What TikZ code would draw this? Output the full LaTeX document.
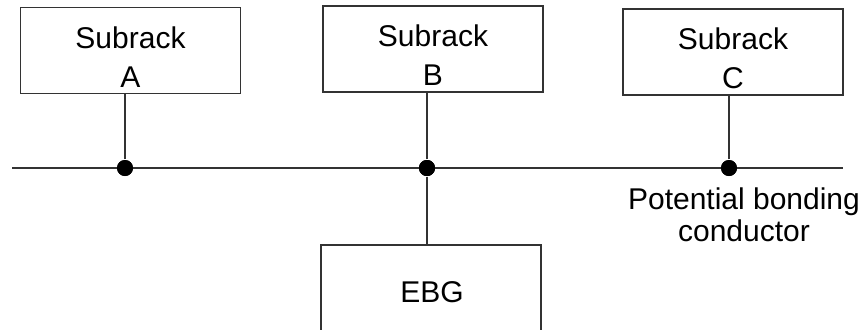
\documentclass[tikz,border=0pt]{standalone}
\usepackage{fontspec}
\setmainfont{Liberation Sans}
\begin{document}
\begin{tikzpicture}[x=0.5pt,y=-0.5pt,line width=0.6pt,draw=black!80]

\def \busy {168}
\def \boxw {220}
\def \boxh {86}
\def \dotsize {8pt}

\tikzset{
  rack/.style={draw=black!80, rectangle, minimum width=\boxw*0.5pt, minimum height=\boxh*0.5pt, inner sep=0pt},
  rackname/.style={align=center, font=\fontsize{15}{19.5}\selectfont},
  joint/.style={draw=none, fill=black, circle, inner sep=0pt, minimum size=\dotsize}
}

\useasboundingbox (0,0) rectangle (864,329);
\clip (0,0) rectangle (864,329);

% subracks and their joints on the bus
\foreach \r/\cx/\cy/\dx in {A/130.5/50.5/125, B/433/49/427, C/733/52/729}
{
  \node (\r) [rack] at (\cx,\cy) {};
  \node (t\r) [rackname] at (\cx,\cy+6.5) {Subrack\\\r};
  \node (d\r) [joint] at (\dx,\busy) {};
}

\coordinate (west) at (12,\busy);
\coordinate (east) at (843,\busy);
\draw (west) -- (east);

\foreach \r in {A,B,C}
{
  \draw (d\r) -- (d\r |- \r.south);
  \node [joint] at (d\r) {};
}

% earthing, cut by the lower edge
\node (ebg) [rack, minimum height=80pt] at (431,325) {};
\node (tebg) [rackname] at (432,292.5) {EBG};
\draw (dB) -- (dB |- ebg.north);
\node [joint] at (dB) {};

\node (pbc) [align=center, font=\fontsize{15}{16}\selectfont] at (744,214.5) {Potential bonding\\conductor};

\end{tikzpicture}
\end{document}
